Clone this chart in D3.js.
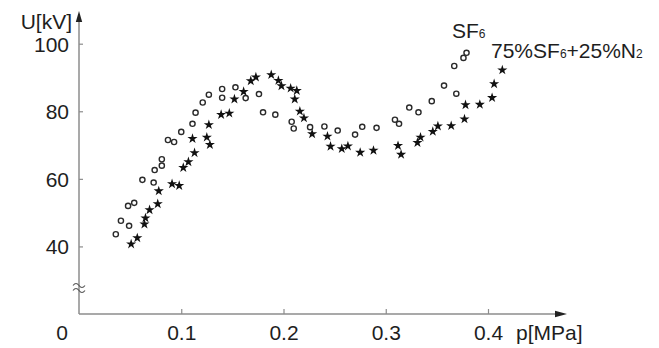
<!DOCTYPE html>
<html><head><meta charset="utf-8">
<script src="https://cdn.jsdelivr.net/npm/d3@7"></script>
<style>
html,body{margin:0;padding:0;background:#fff;}
svg{display:block;font-family:"Liberation Sans",Arial,sans-serif;}
</style></head>
<body><svg id="c" width="659" height="348"></svg>
<script>
// SF6 (open circles): pressure [MPa], voltage [kV]
const sf6P = [0.036,0.041,0.049,0.048,0.054,0.062,0.073,0.074,0.081,0.081,0.087,0.093,0.100,0.111,0.114,0.121,0.127,0.140,0.140,0.153,0.163,0.176,0.180,0.192,0.208,0.210,0.226,0.240,0.253,0.270,0.277,0.291,0.309,0.313,0.323,0.332,0.345,0.357,0.369,0.367,0.376,0.379];
const sf6U = [43.6,47.6,46.1,52.0,52.9,59.7,58.9,62.6,63.9,65.8,71.5,70.9,73.9,76.3,79.6,82.6,84.9,86.6,84.0,87.1,83.9,85.1,79.7,79.0,76.9,74.9,75.3,75.5,74.3,73.1,75.4,75.1,77.5,76.3,81.1,79.7,83.0,87.6,85.2,93.4,95.8,97.3];
// 75%SF6+25%N2 (stars)
const mixP = [0.051,0.057,0.064,0.065,0.069,0.077,0.078,0.091,0.098,0.102,0.107,0.113,0.111,0.125,0.128,0.127,0.139,0.147,0.152,0.161,0.168,0.173,0.188,0.195,0.198,0.207,0.213,0.211,0.216,0.220,0.228,0.243,0.246,0.257,0.263,0.275,0.288,0.312,0.315,0.331,0.334,0.346,0.351,0.364,0.377,0.378,0.392,0.404,0.406,0.414];
const mixU = [40.7,42.5,46.6,48.4,50.8,52.6,56.4,58.5,58.0,63.3,65.0,67.7,71.9,72.3,70.1,76.0,79.0,79.4,83.6,85.8,89.0,90.1,90.8,89.1,87.5,86.8,86.1,83.6,80.0,78.0,73.3,72.6,69.6,68.9,69.7,67.8,68.4,69.8,67.2,70.7,72.3,74.0,75.6,75.7,77.7,81.9,82.0,84.0,88.1,92.2];
const xTicks = [0.1,0.2,0.3,0.4];
const yTicks = [40,60,80,100];

const svg = d3.select("#c");
const x = d3.scaleLinear().domain([0,0.4]).range([79,488]);
const y = d3.scaleLinear().domain([20,100]).range([314,43.7]);
const axisCol = "#8c8c8c", txtCol = "#1e1e1e";
const x0 = x(0), y0 = y(20);

// axes lines
svg.append("line").attr("x1",x0).attr("x2",x0).attr("y1",y0).attr("y2",18)
  .attr("stroke",axisCol).attr("stroke-width",1.5);
svg.append("path").attr("d",`M${x0},11 L${x0-3.2},22 L${x0+3.2},22 Z`).attr("fill","#222");
svg.append("line").attr("x1",x0).attr("x2",560).attr("y1",y0).attr("y2",y0)
  .attr("stroke",axisCol).attr("stroke-width",1.5);
svg.append("path").attr("d",`M567,${y0} L555,${y0-3.3} L555,${y0+3.3} Z`).attr("fill","#222");

// y axis ticks
const ya = svg.append("g").attr("transform",`translate(${x0},0)`)
  .call(d3.axisLeft(y).tickValues(yTicks).tickSize(4).tickPadding(6));
ya.select(".domain").remove();
ya.selectAll(".tick line").attr("x2",4).attr("stroke",axisCol).attr("stroke-width",1.2);
ya.selectAll(".tick text").attr("font-size",21).attr("fill",txtCol)
  .attr("font-family","Liberation Sans, Arial, sans-serif").attr("dy","0.36em");

// x axis ticks
const xa = svg.append("g").attr("transform",`translate(0,${y0})`)
  .call(d3.axisBottom(x).tickValues(xTicks).tickFormat(d3.format(".1f")).tickSize(-5).tickPadding(0));
xa.select(".domain").remove();
xa.selectAll(".tick line").attr("stroke",axisCol).attr("stroke-width",1.2);
xa.selectAll(".tick text").attr("font-size",21).attr("fill",txtCol)
  .attr("font-family","Liberation Sans, Arial, sans-serif").attr("y",26).attr("dy",0);

// origin label, axis titles
svg.append("text").attr("x",62).attr("y",y0+26).attr("text-anchor","middle")
  .attr("font-size",21).attr("fill",txtCol).text("0");
svg.append("text").attr("x",516).attr("y",y0+26).attr("font-size",21).attr("fill",txtCol).text("p[MPa]");
svg.append("text").attr("x",72).attr("y",29).attr("text-anchor","end")
  .attr("font-size",21).attr("fill",txtCol).text("U[kV]");

// axis break symbol
const by = 287;
[-2.5,2.5].forEach(o=>{
  svg.append("path").attr("d",`M${x0-6},${by+o+1} q3,-4 6,0 t6,0`)
    .attr("fill","none").attr("stroke","#555").attr("stroke-width",1.1);
});

// series labels
const l1 = svg.append("text").attr("x",452).attr("y",38).attr("font-size",21).attr("fill",txtCol);
l1.append("tspan").text("SF");
l1.append("tspan").attr("font-size",12).text("6");
const l2 = svg.append("text").attr("x",491).attr("y",58).attr("font-size",21).attr("fill",txtCol);
l2.append("tspan").text("75%SF");
l2.append("tspan").attr("font-size",12).text("6");
l2.append("tspan").text("+25%N");
l2.append("tspan").attr("font-size",12).text("2");

// points
const sf6 = sf6P.map((p,i)=>({p,u:sf6U[i]}));
const mix = mixP.map((p,i)=>({p,u:mixU[i]}));
svg.append("g").selectAll("circle").data(sf6).join("circle")
  .attr("cx",d=>x(d.p)).attr("cy",d=>y(d.u)).attr("r",2.6)
  .attr("fill","#fff").attr("stroke","#2a2a2a").attr("stroke-width",1.4);
const star = d3.symbol().type(d3.symbolStar).size(32);
svg.append("g").selectAll("path").data(mix).join("path")
  .attr("transform",d=>`translate(${x(d.p)},${y(d.u)})`).attr("d",star).attr("fill","#111");
</script></body></html>
